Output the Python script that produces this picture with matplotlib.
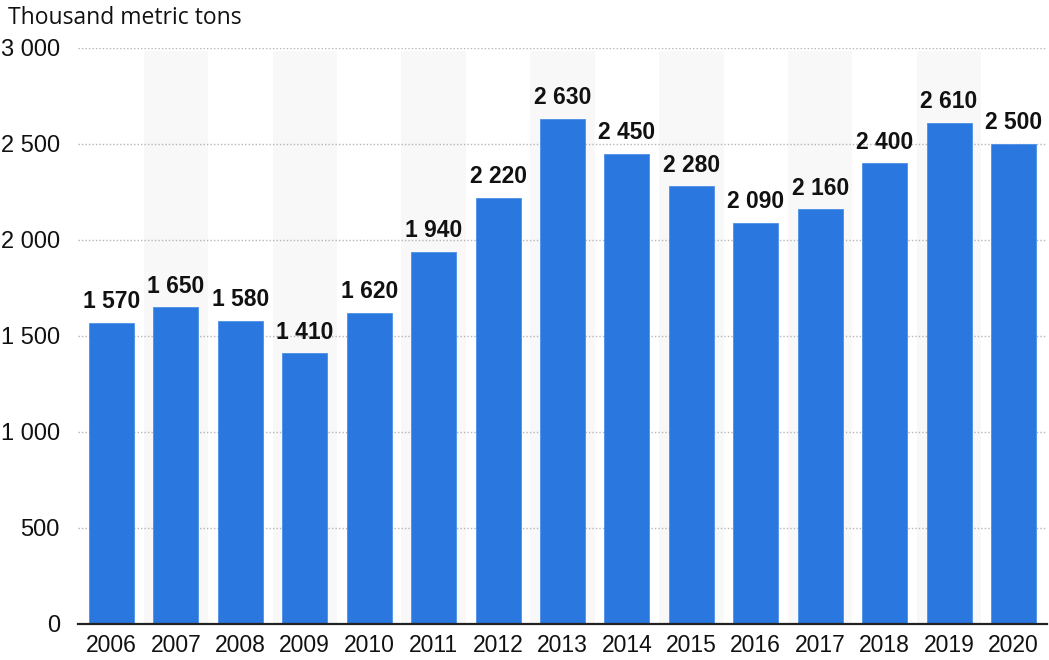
import matplotlib
matplotlib.use("Agg")
import matplotlib.pyplot as plt
from matplotlib.ticker import FixedLocator

years = ["2006", "2007", "2008", "2009", "2010", "2011", "2012", "2013",
         "2014", "2015", "2016", "2017", "2018", "2019", "2020"]
values = [1570, 1650, 1580, 1410, 1620, 1940, 2220, 2630,
          2450, 2280, 2090, 2160, 2400, 2610, 2500]
y_ticks = [0, 500, 1000, 1500, 2000, 2500, 3000]
unit_label = "Thousand metric tons"

def fmt(v):
    return f"{v:,}".replace(",", " ")

W, H = 1049, 660
fig = plt.figure(figsize=(W / 100, H / 100), dpi=100)
ax = fig.add_axes([78 / W, 36 / H, (1047 - 78) / W, (624 - 48) / H])

x = list(range(len(years)))
for i in x:
    if i % 2 == 1:
        ax.axvspan(i - 0.5, i + 0.5, ymin=0, ymax=0.995, color="#f8f8f8", zorder=0, lw=0)

ax.bar(x, values, width=0.70, color="#2a77df", edgecolor="#4d8fe6", linewidth=0.6, zorder=3)

for i, v in zip(x, values):
    ax.text(i, v + 50, fmt(v), ha="center", va="bottom", fontsize=16.5,
            fontweight="bold", family="Liberation Sans", color="#111111", zorder=4)

ax.set_xlim(-0.52, len(years) - 0.48)
ax.set_ylim(0, 3000)
ax.set_xticks(x)
ax.set_xticklabels(years, family="Liberation Sans", fontsize=16.5, color="#111111")
ax.yaxis.set_major_locator(FixedLocator(y_ticks))
ax.set_yticklabels([fmt(t) for t in y_ticks], family="Liberation Sans", fontsize=17, color="#111111")
ax.tick_params(axis="both", length=0)
ax.tick_params(axis="y", pad=13)
ax.tick_params(axis="x", pad=7)

for t in y_ticks[1:]:
    ax.axhline(t, color="#b5b5b5", lw=1.0, ls=(0, (1, 1.5)), zorder=1)

for s in ["top", "right", "left"]:
    ax.spines[s].set_visible(False)
ax.spines["bottom"].set_color("#222222")
ax.spines["bottom"].set_linewidth(1.6)
ax.spines["bottom"].set_zorder(5)

fig.text(8 / W, 1 - 18 / H, unit_label, ha="left", va="center", fontsize=16.5,
         family="Open Sans", color="#111111")

fig.savefig("out.png", dpi=100)
